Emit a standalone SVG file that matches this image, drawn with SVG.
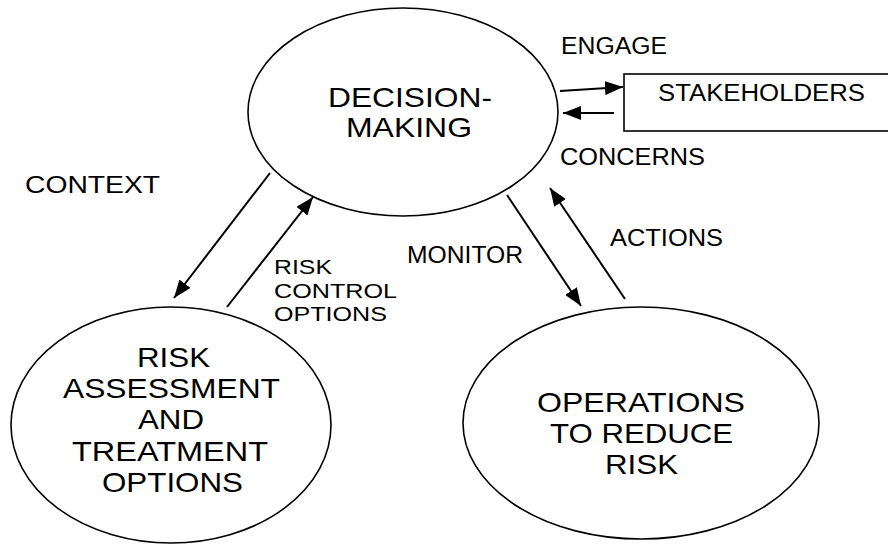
<svg xmlns="http://www.w3.org/2000/svg" width="888" height="544" viewBox="0 0 888 544">
<style>
  .node { fill: #ffffff; stroke: #000000; stroke-width: 1.6; }
  .big { font-family: "Liberation Sans", Arial, sans-serif; font-size: 28px; fill: #000; }
  .lbl { font-family: "Liberation Sans", Arial, sans-serif; font-size: 23px; fill: #000; }
  .lbl-s { font-family: "Liberation Sans", Arial, sans-serif; font-size: 20px; fill: #000; }
  .conn { stroke: #000; stroke-width: 2; fill: none; marker-end: url(#arrow); }
</style>
<defs>
  <marker id="arrow" markerUnits="userSpaceOnUse" markerWidth="18" markerHeight="14" refX="18" refY="7" orient="auto">
    <path d="M0,0 L18,7 L0,14 z" fill="#000"/>
  </marker>
</defs>
<rect width="888" height="544" fill="#ffffff"/>

<g id="decision-making">
  <ellipse class="node" cx="403" cy="112" rx="155" ry="104"/>
  <text class="big" x="328" y="107" textLength="164" lengthAdjust="spacingAndGlyphs">DECISION-</text>
  <text class="big" x="346" y="137" textLength="126" lengthAdjust="spacingAndGlyphs">MAKING</text>
</g>

<g id="stakeholders">
  <rect class="node" x="624" y="74" width="270" height="57"/>
  <text class="lbl" x="658" y="101" textLength="207" lengthAdjust="spacingAndGlyphs">STAKEHOLDERS</text>
</g>

<g id="risk-assessment">
  <ellipse class="node" cx="171" cy="425" rx="160" ry="118"/>
  <text class="big" x="137" y="367" textLength="73" lengthAdjust="spacingAndGlyphs">RISK</text>
  <text class="big" x="63" y="398" textLength="217" lengthAdjust="spacingAndGlyphs">ASSESSMENT</text>
  <text class="big" x="138" y="429" textLength="66" lengthAdjust="spacingAndGlyphs">AND</text>
  <text class="big" x="72" y="461" textLength="196" lengthAdjust="spacingAndGlyphs">TREATMENT</text>
  <text class="big" x="102" y="492" textLength="141" lengthAdjust="spacingAndGlyphs">OPTIONS</text>
</g>

<g id="operations">
  <ellipse class="node" cx="641" cy="423" rx="178" ry="116"/>
  <text class="big" x="537" y="412" textLength="208" lengthAdjust="spacingAndGlyphs">OPERATIONS</text>
  <text class="big" x="550" y="443" textLength="183" lengthAdjust="spacingAndGlyphs">TO REDUCE</text>
  <text class="big" x="605" y="474" textLength="73" lengthAdjust="spacingAndGlyphs">RISK</text>
</g>

<g id="connectors">
  <line class="conn" x1="560" y1="91" x2="623" y2="87"/>
  <line class="conn" x1="614" y1="113" x2="563" y2="113"/>
  <line class="conn" x1="270" y1="173" x2="174" y2="298"/>
  <line class="conn" x1="227" y1="307" x2="313" y2="197"/>
  <line class="conn" x1="507" y1="195" x2="581" y2="306"/>
  <line class="conn" x1="625" y1="299" x2="550" y2="188"/>
</g>

<g id="labels">
  <text class="lbl" x="561" y="54" textLength="106" lengthAdjust="spacingAndGlyphs">ENGAGE</text>
  <text class="lbl" x="560" y="165" textLength="145" lengthAdjust="spacingAndGlyphs">CONCERNS</text>
  <text class="lbl" x="25" y="193" textLength="135" lengthAdjust="spacingAndGlyphs">CONTEXT</text>
  <text class="lbl" x="407" y="263" textLength="116" lengthAdjust="spacingAndGlyphs">MONITOR</text>
  <text class="lbl" x="610" y="246" textLength="113" lengthAdjust="spacingAndGlyphs">ACTIONS</text>
  <text class="lbl-s" x="274" y="274" textLength="58" lengthAdjust="spacingAndGlyphs">RISK</text>
  <text class="lbl-s" x="274" y="298" textLength="123" lengthAdjust="spacingAndGlyphs">CONTROL</text>
  <text class="lbl-s" x="274" y="321" textLength="113" lengthAdjust="spacingAndGlyphs">OPTIONS</text>
</g>
</svg>
